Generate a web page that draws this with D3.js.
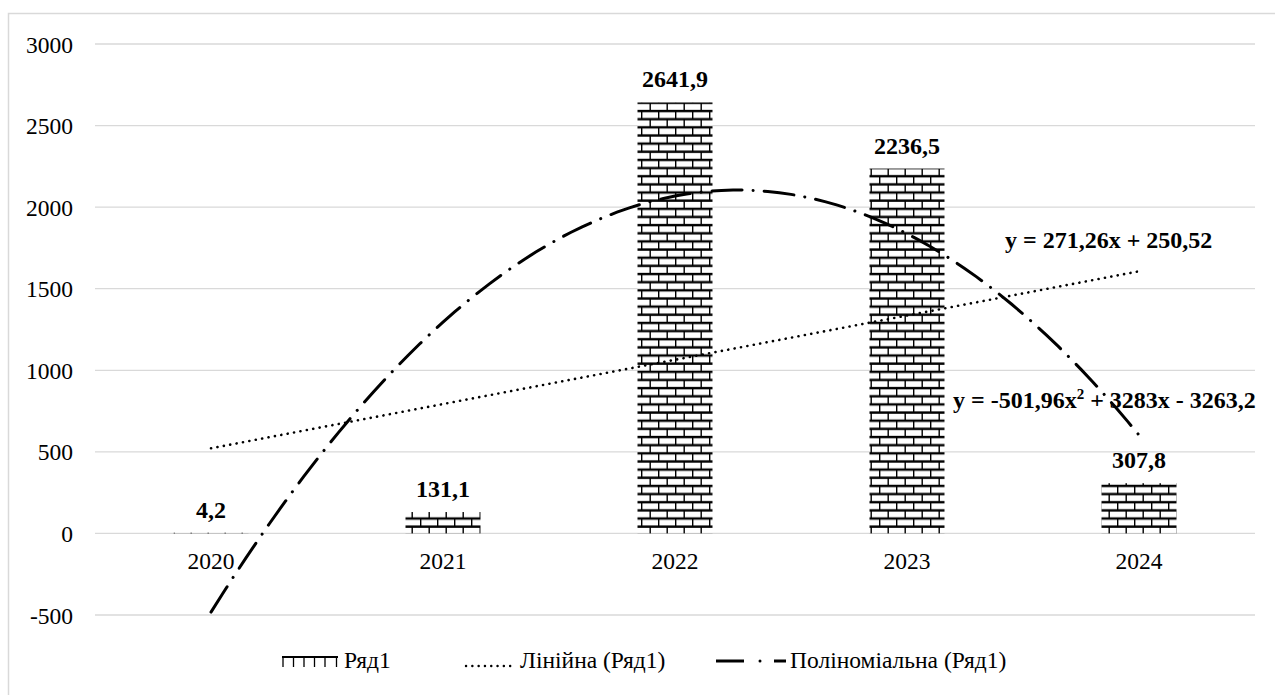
<!DOCTYPE html>
<html>
<head>
<meta charset="utf-8">
<script src="https://cdn.jsdelivr.net/npm/d3@7"></script>
<style>
  html, body { margin: 0; padding: 0; background: #fff; }
  svg { display: block; }
</style>
</head>
<body>
<svg id="chart" width="1275" height="695"></svg>
<script>
// Series data
const years = ["2020", "2021", "2022", "2023", "2024"];
const values = [4.2, 131.1, 2641.9, 2236.5, 307.8];
const valueLabels = ["4,2", "131,1", "2641,9", "2236,5", "307,8"];
const yTicks = [-500, 0, 500, 1000, 1500, 2000, 2500, 3000];
// Trend line coefficients (x = 1..5)
const linearCoef = [271.26, 250.52];            // slope, intercept
const polyCoef = [-501.96, 3283, -3263.2];      // a, b, c
const legendNames = ["Ряд1", "Лінійна (Ряд1)", "Поліноміальна (Ряд1)"];

const FONT = '"Liberation Serif", "Times New Roman", serif';
const svg = d3.select("#chart");
const plotLeft = 95, plotRight = 1255, plotTop = 44, plotBottom = 615;

// Chart border
svg.append("rect").attr("x", 8.5).attr("y", 13.5).attr("width", 1280).attr("height", 700)
  .attr("fill", "none").attr("stroke", "#d9d9d9").attr("stroke-width", 1.5);

const x = d3.scaleBand().domain(years).range([plotLeft, plotRight]).paddingInner(0).paddingOuter(0);
const y = d3.scaleLinear().domain([-500, 3000]).range([plotBottom, plotTop]);

// Brick fill pattern (rows of 8.15px, offset bricks every other row)
const rowH = 8.15, tileW = 34;
const defs = svg.append("defs");
const pat = defs.append("pattern").attr("id", "brick").attr("patternUnits", "userSpaceOnUse")
  .attr("width", tileW).attr("height", rowH * 2).attr("x", 3).attr("y", y(0) + 1.3);
pat.append("rect").attr("width", tileW).attr("height", rowH * 2).attr("fill", "#fff");
[0, rowH, rowH * 2].forEach(v =>
  pat.append("rect").attr("x", 0).attr("y", v - 1.1).attr("width", tileW).attr("height", 2.4).attr("fill", "#000"));
[0.5, 17.5].forEach(v => pat.append("rect").attr("x", v).attr("y", rowH).attr("width", 1.4).attr("height", rowH).attr("fill", "#000"));
[9, 26].forEach(v => pat.append("rect").attr("x", v).attr("y", 0).attr("width", 1.4).attr("height", rowH).attr("fill", "#000"));

// Gridlines
svg.append("g").selectAll("line").data(yTicks).join("line")
  .attr("x1", plotLeft).attr("x2", plotRight)
  .attr("y1", d => y(d)).attr("y2", d => y(d))
  .attr("stroke", "#d9d9d9").attr("stroke-width", 1.3);

// Y axis labels
const yAxis = d3.axisLeft(y).tickValues(yTicks).tickSize(0).tickPadding(0)
  .tickFormat(d => String(d));
const gy = svg.append("g").attr("transform", `translate(73,0)`).call(yAxis)
  .attr("font-size", 23.5);
gy.select(".domain").remove();
gy.selectAll("text").attr("fill", "#000").attr("dy", "0.34em");

// Bars
const barW = 75;
svg.append("g").selectAll("rect").data(values).join("rect")
  .attr("x", (d, i) => x(years[i]) + x.bandwidth() / 2 - barW / 2)
  .attr("width", barW)
  .attr("y", d => y(d))
  .attr("height", d => y(0) - y(d))
  .attr("fill", "url(#brick)");

// X axis labels (below zero line)
const xAxis = d3.axisBottom(x).tickSize(0).tickPadding(0);
const gx = svg.append("g").attr("transform", `translate(0,${y(0)})`).call(xAxis)
  .attr("font-size", 23.5);
gx.select(".domain").remove();
gx.selectAll("text").attr("fill", "#000").attr("dy", null).attr("y", 36);

// Value labels
svg.append("g").selectAll("text").data(values).join("text")
  .attr("x", (d, i) => x(years[i]) + x.bandwidth() / 2)
  .attr("y", d => y(Math.max(d, 0)) - 15)
  .attr("text-anchor", "middle").attr("font-size", 24).attr("font-weight", "bold")
  .text((d, i) => valueLabels[i]);

// Trend lines
const xs = d3.range(1, 5.0001, 0.05);
const xPos = t => x(years[0]) + x.bandwidth() / 2 + (t - 1) * x.bandwidth();
const line = d3.line().x(d => xPos(d[0])).y(d => y(d[1]));

const linPts = [1, 5].map(t => [t, linearCoef[0] * t + linearCoef[1]]);
svg.append("path").attr("d", line(linPts)).attr("fill", "none")
  .attr("stroke", "#000").attr("stroke-width", 2.6)
  .attr("stroke-dasharray", "0.1 6.4").attr("stroke-linecap", "round");

const polyPts = xs.map(t => [t, polyCoef[0] * t * t + polyCoef[1] * t + polyCoef[2]]);
svg.append("path").attr("d", line(polyPts)).attr("fill", "none")
  .attr("stroke", "#000").attr("stroke-width", 3)
  .attr("stroke-dasharray", "30 11 0.1 11").attr("stroke-linecap", "round");

// Trend equations
svg.append("text").attr("x", 1005).attr("y", 248)
  .attr("font-size", 24).attr("font-weight", "bold")
  .text("y = 271,26x + 250,52");
const eq2 = svg.append("text").attr("x", 953).attr("y", 408)
  .attr("font-size", 24).attr("font-weight", "bold");
eq2.append("tspan").text("y = -501,96x");
eq2.append("tspan").attr("font-size", 15).attr("dy", -9).text("2");
eq2.append("tspan").attr("dy", 9).text(" + 3283x - 3263,2");

// Legend
const ly = 661;
const lg = svg.append("g").attr("font-size", 23.5);
// bar swatch
lg.append("line").attr("x1", 282).attr("x2", 338).attr("y1", ly - 4).attr("y2", ly - 4)
  .attr("stroke", "#000").attr("stroke-width", 2);
[283, 293.5, 304, 314.5, 325, 336.5].forEach(v =>
  lg.append("line").attr("x1", v).attr("x2", v).attr("y1", ly - 4).attr("y2", ly + 6)
    .attr("stroke", "#000").attr("stroke-width", 1.3));
lg.append("text").attr("x", 344).attr("y", ly + 7).text(legendNames[0]);
// linear swatch
lg.append("line").attr("x1", 466).attr("x2", 516).attr("y1", ly + 5).attr("y2", ly + 5)
  .attr("stroke", "#000").attr("stroke-width", 2.4)
  .attr("stroke-dasharray", "0.1 6.2").attr("stroke-linecap", "round");
lg.append("text").attr("x", 520).attr("y", ly + 7).text(legendNames[1]);
// polynomial swatch: long dash, dot, short dash
lg.append("line").attr("x1", 716).attr("x2", 744).attr("y1", ly).attr("y2", ly)
  .attr("stroke", "#000").attr("stroke-width", 3);
lg.append("circle").attr("cx", 760).attr("cy", ly).attr("r", 1.5).attr("fill", "#000");
lg.append("line").attr("x1", 774).attr("x2", 786).attr("y1", ly).attr("y2", ly)
  .attr("stroke", "#000").attr("stroke-width", 3);
lg.append("text").attr("x", 790).attr("y", ly + 7).text(legendNames[2]);

// All text in Times-style serif
svg.selectAll("text").style("font-family", FONT);
</script>
</body>
</html>
